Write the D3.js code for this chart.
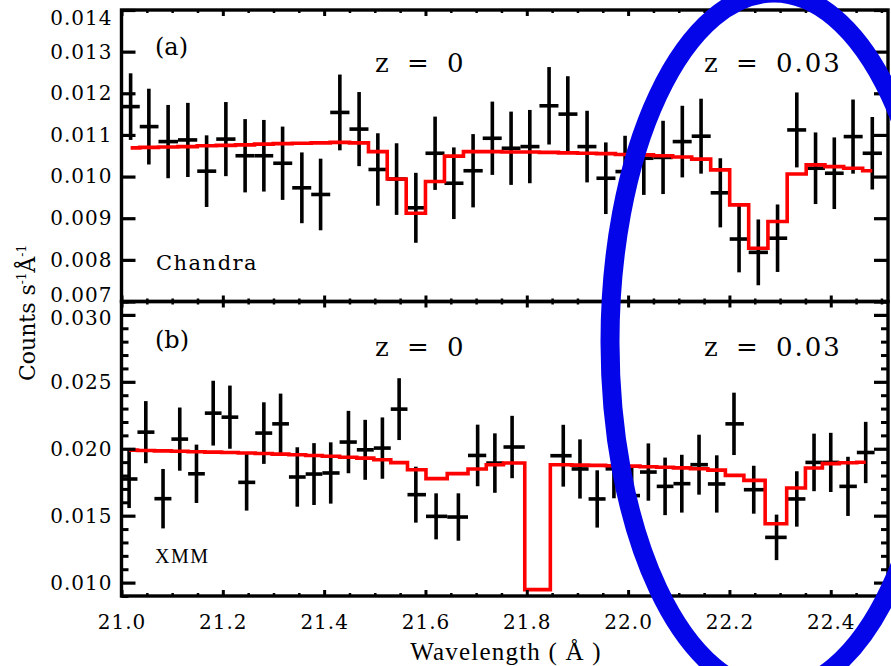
<!DOCTYPE html>
<html>
<head>
<meta charset="utf-8">
<script src="https://cdn.jsdelivr.net/npm/d3@7"></script>
<style>
  body { margin: 0; background: #fff; }
  svg { display: block; }
</style>
</head>
<body>
<div id="chart"></div>
<script>
// ---- data ----
// (a) Chandra spectrum
const chandraWave = [21.018, 21.054, 21.092, 21.131, 21.168, 21.206, 21.244, 21.281, 21.318, 21.356,
                     21.393, 21.431, 21.469, 21.506, 21.543, 21.581, 21.619, 21.656, 21.694, 21.732,
                     21.769, 21.806, 21.844, 21.881, 21.919, 21.956, 21.994, 22.031, 22.069, 22.107,
                     22.144, 22.182, 22.219, 22.257, 22.295, 22.333, 22.370, 22.407, 22.444, 22.482];
const chandraFlux = [0.01168, 0.01120, 0.01084, 0.01088, 0.01013, 0.01090, 0.01050, 0.01050, 0.01032, 0.00973,
                     0.00957, 0.01154, 0.01114, 0.01017, 0.00994, 0.00925, 0.01056, 0.00984, 0.01014, 0.01092,
                     0.01068, 0.01072, 0.01170, 0.01150, 0.01072, 0.00996, 0.01012, 0.01044, 0.01046, 0.01084,
                     0.01097, 0.00961, 0.00850, 0.00818, 0.00852, 0.01112, 0.01020, 0.01008, 0.01096, 0.01056];
const chandraErr = [0.00080, 0.00091, 0.00088, 0.00089, 0.00086, 0.00089, 0.00088, 0.00086, 0.00088, 0.00085,
                    0.00086, 0.00091, 0.00089, 0.00087, 0.00086, 0.00084, 0.00088, 0.00086, 0.00088, 0.00088,
                    0.00088, 0.00088, 0.00093, 0.00091, 0.00086, 0.00086, 0.00086, 0.00088, 0.00088, 0.00086,
                    0.00090, 0.00083, 0.00080, 0.00079, 0.00081, 0.00090, 0.00086, 0.00086, 0.00089, 0.00087];
const chandraModel = [0.01069, 0.01070, 0.01071, 0.01072, 0.01074, 0.01075, 0.01076, 0.01078, 0.01079, 0.01080,
                      0.01081, 0.01082, 0.01081, 0.01060, 0.00994, 0.00912, 0.00988, 0.01049, 0.01060, 0.01060,
                      0.01059, 0.01059, 0.01058, 0.01057, 0.01056, 0.01055, 0.01053, 0.01052, 0.01050, 0.01047,
                      0.01042, 0.01016, 0.00932, 0.00828, 0.00892, 0.01006, 0.01028, 0.01024, 0.01020, 0.01014];

// (b) XMM spectrum (null = model-only bin)
const xmmWave = [21.015, 21.048, 21.082, 21.115, 21.148, 21.181, 21.214, 21.247, 21.281, 21.314,
                 21.347, 21.380, 21.413, 21.448, 21.481, 21.515, 21.548, 21.581, 21.621, 21.665,
                 21.703, 21.737, 21.771, 21.821, 21.872, 21.905, 21.939, 21.972, 22.007, 22.040,
                 22.073, 22.106, 22.140, 22.175, 22.209, 22.248, 22.293, 22.333, 22.367, 22.400,
                 22.434, 22.469];
const xmmFlux = [0.01774, 0.02124, 0.01627, 0.02072, 0.01813, 0.02266, 0.02236, 0.01749, 0.02117, 0.02186,
                 0.01789, 0.01811, 0.01819, 0.02050, 0.01992, 0.02005, 0.02296, 0.01657, 0.01495, 0.01490,
                 0.01950, 0.01893, 0.02013, null,    0.01948, 0.01849, 0.01625, 0.01850, 0.01650, 0.01826,
                 0.01719, 0.01739, 0.01881, 0.01737, 0.02186, 0.01694, 0.01338, 0.01625, 0.01898, 0.01898,
                 0.01719, 0.01972];
const xmmErr = [0.00217, 0.00232, 0.00222, 0.00236, 0.00218, 0.00242, 0.00236, 0.00211, 0.00230, 0.00226,
                0.00222, 0.00231, 0.00229, 0.00233, 0.00224, 0.00229, 0.00231, 0.00209, 0.00172, 0.00177,
                0.00230, 0.00222, 0.00233, null,    0.00231, 0.00221, 0.00214, 0.00220, 0.00210, 0.00214,
                0.00215, 0.00216, 0.00224, 0.00214, 0.00233, 0.00179, 0.00170, 0.00207, 0.00215, 0.00221,
                0.00221, 0.00229];
const xmmModel = [0.01990, 0.01987, 0.01984, 0.01981, 0.01978, 0.01975, 0.01972, 0.01968, 0.01964, 0.01960,
                  0.01955, 0.01950, 0.01944, 0.01937, 0.01930, 0.01918, 0.01896, 0.01843, 0.01777, 0.01814,
                  0.01849, 0.01881, 0.01893, 0.00948, 0.01880, 0.01878, 0.01876, 0.01873, 0.01870, 0.01866,
                  0.01862, 0.01857, 0.01851, 0.01840, 0.01801, 0.01764, 0.01440, 0.01707, 0.01856, 0.01889,
                  0.01895, 0.01899];

// ticks
const xMajorTicks = [21.0, 21.2, 21.4, 21.6, 21.8, 22.0, 22.2, 22.4];
const xTickLabels = ["21.0", "21.2", "21.4", "21.6", "21.8", "22.0", "22.2", "22.4"];
const yTicksA = [0.007, 0.008, 0.009, 0.010, 0.011, 0.012, 0.013, 0.014];
const yTicksB = [0.010, 0.015, 0.020, 0.025, 0.030];

// ---- layout ----
const width = 891, height = 666;
const plotLeft = 121.5, plotRight = 888;
const panelTop = 10, panelMid = 301.5, panelBottom = 596;
const serif = "'DejaVu Serif', serif";

const x = d3.scaleLinear().domain([21.0, 22.513]).range([plotLeft, plotRight]);
const yA = d3.scaleLinear().domain([0.007, 0.014]).range([panelMid, panelTop]);
const yB = d3.scaleLinear().domain([0.009, 0.031]).range([panelBottom, panelMid]);

const svg = d3.select("#chart").append("svg")
    .attr("width", width)
    .attr("height", height)
    .attr("viewBox", [0, 0, width, height]);

svg.append("rect").attr("width", width).attr("height", height).attr("fill", "#fff");

function drawPanel(wave, flux, err, model, y) {
  const pts = wave.map((w, i) => {
    const lo = i > 0 ? (wave[i - 1] + w) / 2 : w - (wave[1] - wave[0]) / 2;
    const hi = i < wave.length - 1 ? (wave[i + 1] + w) / 2 : w + (w - wave[i - 1]) / 2;
    return { w: w, f: flux[i], e: err[i], m: model[i], lo: lo, hi: hi };
  });
  const withData = pts.filter(d => d.f != null);

  const g = svg.append("g");
  // error bars
  g.selectAll("line.v").data(withData).join("line")
      .attr("x1", d => x(d.w)).attr("x2", d => x(d.w))
      .attr("y1", d => y(d.f - d.e)).attr("y2", d => y(d.f + d.e))
      .attr("stroke", "#000").attr("stroke-width", 3.6);
  g.selectAll("line.h").data(withData).join("line")
      .attr("x1", d => x(d.lo)).attr("x2", d => x(d.hi))
      .attr("y1", d => y(d.f)).attr("y2", d => y(d.f))
      .attr("stroke", "#000").attr("stroke-width", 3.6);

  // model, histogram style
  const line = d3.line().x(d => x(d.w)).y(d => y(d.m)).curve(d3.curveStep);
  g.append("path")
      .datum(pts)
      .attr("d", line)
      .attr("fill", "none")
      .attr("stroke", "#ff0000")
      .attr("stroke-width", 3.6);
}

drawPanel(chandraWave, chandraFlux, chandraErr, chandraModel, yA);
drawPanel(xmmWave, xmmFlux, xmmErr, xmmModel, yB);

// ---- axes ----
function xTicks(g, yPos, dir, showLabels) {
  const minor = d3.range(21.05, 22.51, 0.05).filter(v => Math.abs(v * 5 - Math.round(v * 5)) > 1e-6);
  const ax = dir === "bottom" ? d3.axisBottom(x) : d3.axisTop(x);
  g.append("g")
      .attr("transform", `translate(0,${yPos})`)
      .call(ax.tickValues(minor).tickSizeInner(-3).tickSizeOuter(0).tickFormat(""))
      .call(s => s.select(".domain").remove())
      .selectAll("line").attr("stroke-width", 2.5);
  const major = g.append("g")
      .attr("transform", `translate(0,${yPos})`)
      .call(ax.tickValues(xMajorTicks).tickSizeInner(-6).tickSizeOuter(0).tickPadding(19)
              .tickFormat((d, i) => showLabels ? xTickLabels[i] : ""))
      .call(s => s.select(".domain").remove());
  major.selectAll("line").attr("stroke-width", 3);
  major.selectAll("text")
      .attr("font-family", serif)
      .attr("font-size", 20)
      .attr("letter-spacing", 1)
      .attr("fill", "#000");
}

function yAxes(y, majors, minors, fmtShift) {
  const left = svg.append("g")
      .attr("transform", `translate(${plotLeft},0)`)
      .call(d3.axisLeft(y).tickValues(majors).tickSizeInner(-14).tickSizeOuter(0).tickPadding(9)
              .tickFormat(d3.format(".3f")))
      .call(s => s.select(".domain").remove());
  left.selectAll("line").attr("stroke-width", 3.2);
  left.selectAll("text")
      .attr("font-family", serif)
      .attr("font-size", 20)
      .attr("letter-spacing", 1)
      .attr("fill", "#000")
      .attr("dy", (d, i) => (0.32 + (fmtShift[i] || 0)) + "em");

  const right = svg.append("g")
      .attr("transform", `translate(${plotRight},0)`)
      .call(d3.axisRight(y).tickValues(majors).tickSizeInner(-14).tickSizeOuter(0).tickFormat(""))
      .call(s => s.select(".domain").remove());
  right.selectAll("line").attr("stroke-width", 3.2);

  if (minors.length) {
    [[plotLeft, d3.axisLeft], [plotRight, d3.axisRight]].forEach(([px, fn]) => {
      svg.append("g")
          .attr("transform", `translate(${px},0)`)
          .call(fn(y).tickValues(minors).tickSizeInner(-7).tickSizeOuter(0).tickFormat(""))
          .call(s => s.select(".domain").remove())
          .selectAll("line").attr("stroke-width", 3);
    });
  }
}

const minorB = d3.range(0.009, 0.0311, 0.001).filter(v => Math.abs(v * 200 - Math.round(v * 200)) > 1e-6);
yAxes(yA, yTicksA, [], {0: -0.3, 7: 0.42});
yAxes(yB, yTicksB, minorB, {4: 0.15});

xTicks(svg, panelTop, "top", false);
xTicks(svg, panelMid, "bottom", false);
xTicks(svg, panelMid, "top", false);
xTicks(svg, panelBottom, "bottom", true);

// frames
[[panelTop, panelMid], [panelMid, panelBottom]].forEach(([t, b]) => {
  svg.append("rect")
      .attr("x", plotLeft).attr("y", t)
      .attr("width", plotRight - plotLeft).attr("height", b - t)
      .attr("fill", "none").attr("stroke", "#000").attr("stroke-width", 3.4);
});

// ---- labels ----
function label(txt, px, py, size, opts = {}) {
  return svg.append("text")
      .attr("x", px).attr("y", py)
      .attr("font-family", opts.family || serif)
      .attr("font-size", size)
      .attr("letter-spacing", opts.ls || 0)
      .attr("word-spacing", opts.ws || 0)
      .attr("text-anchor", opts.anchor || "start")
      .style("white-space", "pre")
      .attr("fill", "#000")
      .text(txt);
}

label("(a)", 155, 55, 24);
label("(b)", 155, 348, 24);
label("Chandra", 156, 270, 21, { ls: 1.5 });
label("XMM", 155, 563, 20, { family: "'Liberation Serif', serif", ls: 1.5 });
label("z = 0", 375, 72, 26, { ls: 2, ws: 6 });
label("z = 0.03", 704, 72, 26, { ls: 2, ws: 6 });
label("z = 0", 375, 356, 26, { ls: 2, ws: 6 });
label("z = 0.03", 704, 356, 26, { ls: 2, ws: 6 });

label("Wavelength ( Å )", 506, 660, 25, { family: "'Liberation Serif', serif", anchor: "middle", ls: 1.2 });

const yl = svg.append("text")
    .attr("transform", "translate(35,313) rotate(-90)")
    .attr("text-anchor", "middle")
    .attr("font-family", serif)
    .attr("font-size", 22)
    .attr("fill", "#000");
yl.append("tspan").text("Counts s");
yl.append("tspan").attr("dy", -9).attr("font-size", 12).text("-1");
yl.append("tspan").attr("dy", 9).text("Å");
yl.append("tspan").attr("dy", -9).attr("font-size", 12).text("-1");

// ---- blue highlight ellipse ----
svg.append("ellipse")
    .attr("cx", 774).attr("cy", 342)
    .attr("rx", 164).attr("ry", 349)
    .attr("fill", "none")
    .attr("stroke", "#0505ea")
    .attr("stroke-width", 19);
</script>
</body>
</html>
